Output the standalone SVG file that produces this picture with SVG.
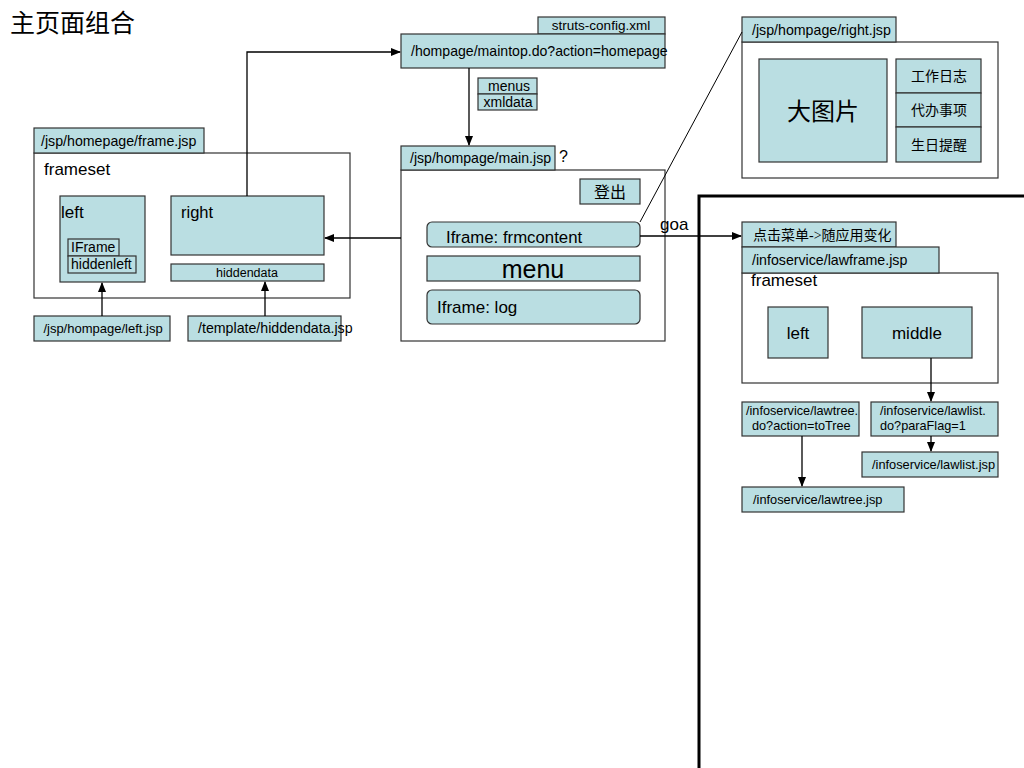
<svg xmlns="http://www.w3.org/2000/svg" width="1024" height="768" viewBox="0 0 1024 768">
<defs>
<marker id="ah" markerWidth="10" markerHeight="8" refX="9" refY="4" orient="auto" markerUnits="userSpaceOnUse">
<path d="M0,0 L10,4 L0,8 z" fill="#000"/>
</marker>
<style>
.b{fill:#BADEE2;stroke:#333;stroke-width:1.2}
.w{fill:#fff;stroke:#333;stroke-width:1.2}
.t{font-family:"Liberation Sans",Arial,sans-serif;fill:#000}
.c{font-family:"Liberation Serif","Noto Sans CJK SC",serif;fill:#000}
.ln{fill:none;stroke:#000;stroke-width:1.3}
</style>
</defs>
<rect width="1024" height="768" fill="#fff"/>
<text class="c" x="10" y="32" font-size="25">主页面组合</text>

<g id="frame-jsp">
<rect class="w" x="34" y="153" width="316" height="145"/>
<rect class="b" x="34" y="128" width="170" height="25"/>
<text class="t" x="41" y="146" font-size="14.2">/jsp/homepage/frame.jsp</text>
<text class="t" x="44" y="175" font-size="17">frameset</text>
</g>
<g id="left">
<rect class="b" x="60" y="196" width="85" height="86"/>
<text class="t" x="61" y="218" font-size="17">left</text>
<rect class="b" x="68" y="239" width="51" height="17"/>
<text class="t" x="71" y="252" font-size="14">IFrame</text>
<rect class="b" x="68" y="256" width="68" height="17"/>
<text class="t" x="71" y="269" font-size="14">hiddenleft</text>
</g>
<g id="right">
<rect class="b" x="171" y="196" width="153" height="59"/>
<text class="t" x="181" y="218" font-size="16.5">right</text>
</g>
<g id="hiddendata">
<rect class="b" x="171" y="264" width="153" height="17"/>
<text class="t" x="247" y="277" font-size="12.5" text-anchor="middle">hiddendata</text>
</g>
<g id="left-jsp">
<rect class="b" x="34" y="316" width="136" height="25"/>
<text class="t" x="103" y="333" font-size="13" text-anchor="middle">/jsp/hompage/left.jsp</text>
</g>
<g id="hiddendata-jsp">
<rect class="b" x="188" y="316" width="153" height="25"/>
<text class="t" x="198" y="333" font-size="14.2">/template/hiddendata.jsp</text>
</g>

<g id="maintop">
<rect class="b" x="538" y="17" width="127" height="17"/>
<text class="t" x="601" y="30" font-size="13.5" text-anchor="middle">struts-config.xml</text>
<rect class="b" x="401" y="34" width="264" height="34"/>
<text class="t" x="411" y="56" font-size="14.1">/hompage/maintop.do?action=homepage</text>
</g>
<g id="menus-xmldata">
<rect class="b" x="478" y="78" width="59" height="16"/>
<text class="t" x="509" y="91" font-size="14" text-anchor="middle">menus</text>
<rect class="b" x="478" y="94" width="59" height="16"/>
<text class="t" x="508" y="107" font-size="14" text-anchor="middle">xmldata</text>
</g>

<g id="main-jsp">
<rect class="w" x="401" y="170" width="264" height="171"/>
<rect class="b" x="401" y="146" width="154" height="24"/>
<text class="t" x="410" y="163" font-size="14.1">/jsp/hompage/main.jsp</text>
<text class="t" x="559" y="162" font-size="16">?</text>
</g>
<g id="logout">
<rect class="b" x="580" y="179" width="60" height="25"/>
<text class="c" x="610" y="198" font-size="16" text-anchor="middle">登出</text>
</g>
<g id="frmcontent">
<rect class="b" x="427" y="222" width="213" height="25" rx="5"/>
<text class="t" x="446" y="243" font-size="16.8">Iframe: frmcontent</text>
</g>
<g id="menu">
<rect class="b" x="427" y="256" width="213" height="25"/>
<text class="t" x="533" y="278" font-size="25" text-anchor="middle">menu</text>
</g>
<g id="log">
<rect class="b" x="427" y="290" width="213" height="34" rx="5"/>
<text class="t" x="437" y="313" font-size="17">Iframe: log</text>
</g>

<g id="right-jsp">
<rect class="w" x="742" y="42" width="256" height="136"/>
<rect class="b" x="742" y="17" width="154" height="25"/>
<text class="t" x="752" y="35" font-size="14.2">/jsp/hompage/right.jsp</text>
<rect class="b" x="759" y="59" width="128" height="103"/>
<text class="c" x="823" y="120" font-size="24" text-anchor="middle">大图片</text>
<rect class="b" x="896" y="59" width="85" height="34"/>
<text class="c" x="939" y="81" font-size="14" text-anchor="middle">工作日志</text>
<rect class="b" x="896" y="93" width="85" height="34"/>
<text class="c" x="939" y="115" font-size="14" text-anchor="middle">代办事项</text>
<rect class="b" x="896" y="127" width="85" height="35"/>
<text class="c" x="939" y="150" font-size="14" text-anchor="middle">生日提醒</text>
</g>

<path d="M699,768 L699,196 L1024,196" fill="none" stroke="#000" stroke-width="3"/>

<g id="lawframe">
<rect class="b" x="742" y="222" width="154" height="25"/>
<text class="c" x="753" y="240" font-size="14">点击菜单-&gt;随应用变化</text>
<rect class="w" x="742" y="273" width="256" height="110"/>
<rect class="b" x="742" y="247" width="197" height="26"/>
<text class="t" x="752" y="265" font-size="14.2">/infoservice/lawframe.jsp</text>
<text class="t" x="751" y="286" font-size="17">frameset</text>
</g>
<g id="law-left">
<rect class="b" x="768" y="307" width="60" height="51"/>
<text class="t" x="798" y="339" font-size="17" text-anchor="middle">left</text>
</g>
<g id="law-middle">
<rect class="b" x="862" y="307" width="110" height="51"/>
<text class="t" x="917" y="339" font-size="17" text-anchor="middle">middle</text>
</g>
<g id="lawtree-do">
<rect class="b" x="742" y="402" width="117" height="34"/>
<text class="t" x="746" y="415" font-size="12.7">/infoservice/lawtree.</text>
<text class="t" x="752" y="430" font-size="12.7">do?action=toTree</text>
</g>
<g id="lawlist-do">
<rect class="b" x="871" y="402" width="127" height="34"/>
<text class="t" x="880" y="415" font-size="12.7">/infoservice/lawlist.</text>
<text class="t" x="880" y="430" font-size="12.7">do?paraFlag=1</text>
</g>
<g id="lawlist-jsp">
<rect class="b" x="862" y="452" width="136" height="25"/>
<text class="t" x="872" y="469" font-size="12.8">/infoservice/lawlist.jsp</text>
</g>
<g id="lawtree-jsp">
<rect class="b" x="742" y="487" width="162" height="25"/>
<text class="t" x="753" y="504" font-size="12.8">/infoservice/lawtree.jsp</text>
</g>

<g id="connectors">
<path class="ln" d="M247,196 L247,52 L400,52" marker-end="url(#ah)"/>
<path class="ln" d="M401,238 L325,238" marker-end="url(#ah)"/>
<path class="ln" d="M102,316 L102,283" marker-end="url(#ah)"/>
<path class="ln" d="M265,316 L265,282" marker-end="url(#ah)"/>
<path class="ln" d="M469,68 L469,145" marker-end="url(#ah)"/>
<path class="ln" d="M640,236 L741,236" marker-end="url(#ah)"/>
<text class="t" x="660" y="230" font-size="17">goa</text>
<path d="M640,222 L742,32" fill="none" stroke="#000" stroke-width="1"/>
<path class="ln" d="M931,358 L931,401" marker-end="url(#ah)"/>
<path class="ln" d="M931,436 L931,451" marker-end="url(#ah)"/>
<path class="ln" d="M802,436 L802,486" marker-end="url(#ah)"/>
</g>
</svg>
